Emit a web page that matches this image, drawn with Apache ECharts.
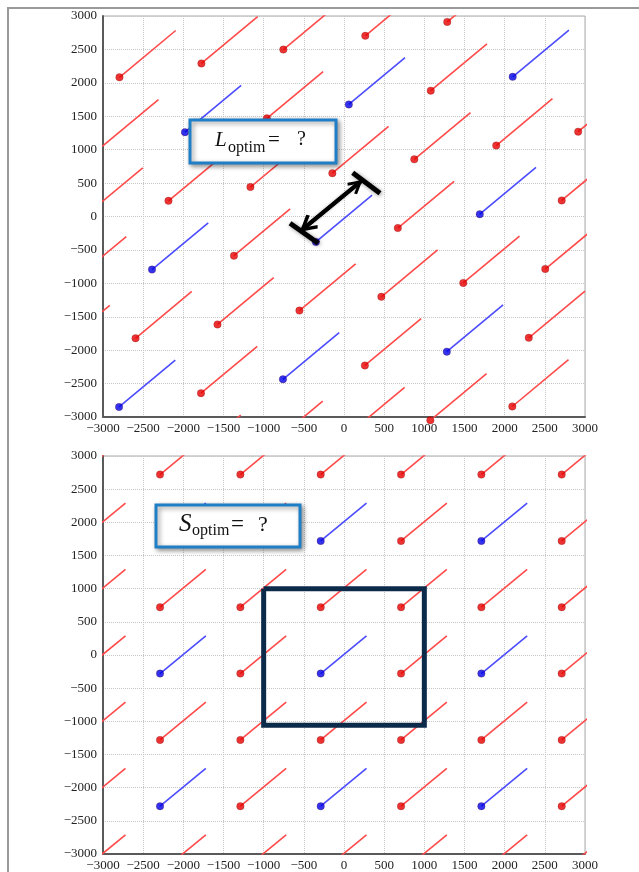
<!DOCTYPE html>
<html>
<head>
<meta charset="utf-8">
<style>
  html, body { margin: 0; padding: 0; background: #fff; }
  #chart { width: 639px; height: 872px; }
</style>
<script src="https://cdn.jsdelivr.net/npm/echarts@6/dist/echarts.min.js"></script>
</head>
<body>
<div id="chart"></div>
<script>
// Axis ticks shared by both panels
const axisTicks = [-3000, -2500, -2000, -1500, -1000, -500, 0, 500, 1000, 1500, 2000, 2500, 3000];

// Upper panel: skewed lattice, lattice points and their direction segments
const topRed = [
  [-1985, -3671], [-965, -3464], [55, -3257], [1075, -3050], [2095, -2843],
  [-1780, -2643], [260, -2229], [2300, -1815],
  [-3615, -2029], [-2595, -1822], [-1575, -1615], [-555, -1408], [465, -1201], [1485, -994], [2505, -787],
  [-3410, -1001], [-1370, -587], [670, -173], [2710, 241],
  [-3205, 27], [-2185, 234], [-1165, 441], [-145, 648], [875, 855], [1895, 1062], [2915, 1269],
  [-3010, 1050], [-960, 1469], [1080, 1883],
  [-2795, 2083], [-1775, 2290], [-755, 2497], [265, 2704], [1285, 2911]
];
const topBlue = [
  [-2800, -2850], [-760, -2436], [1280, -2022],
  [-2390, -794], [-350, -380], [1690, 34],
  [-1980, 1262], [60, 1676], [2100, 2090]
];
const topSegment = [700, 700];

// Double arrow across one blue segment, with its end bars
const arrowTips = [[-526, -202], [220, 536]];
const arrowHeads = [[-464, -141], [158, 474]];
const arrowBars = [
  [[108, 654], [448, 347]],
  [[-672, -102], [-320, -401]]
];

// Lower panel: square lattice
const bottomRed = [
  [-3290, -3280], [-2290, -3280], [-1290, -3280], [-290, -3280], [710, -3280], [1710, -3280], [2710, -3280],
  [-3290, -2280], [-1290, -2280], [710, -2280], [2710, -2280],
  [-3290, -1280], [-2290, -1280], [-1290, -1280], [-290, -1280], [710, -1280], [1710, -1280], [2710, -1280],
  [-3290, -280], [-1290, -280], [710, -280], [2710, -280],
  [-3290, 720], [-2290, 720], [-1290, 720], [-290, 720], [710, 720], [1710, 720], [2710, 720],
  [-3290, 1720], [-1290, 1720], [710, 1720], [2710, 1720],
  [-3290, 2720], [-2290, 2720], [-1290, 2720], [-290, 2720], [710, 2720], [1710, 2720], [2710, 2720]
];
const bottomBlue = [
  [-2290, -2280], [-290, -2280], [1710, -2280],
  [-2290, -280], [-290, -280], [1710, -280],
  [-2290, 1720], [-290, 1720], [1710, 1720]
];
const bottomSegment = [570, 570];

// Unit cell outline in the lower panel
const cellSquare = [[-1000, 1000], [1000, 1000], [1000, -1060], [-1000, -1060], [-1000, 1000]];

const RED_DOT = '#e60000', RED_LINE = '#ff4a4a';
const BLUE_DOT = '#0000e6', BLUE_LINE = '#4c4cff';
const SERIF = '"Liberation Serif", "DejaVu Serif", serif';

function segments(points, vec) {
  return points.map(p => ({ coords: [p, [p[0] + vec[0], p[1] + vec[1]]] }));
}
function visibleDots(points) {
  return points.filter(p => p[0] >= -3000 && p[0] <= 3000 && p[1] >= -3060 && p[1] <= 3000);
}
function axisLabelText(v) {
  return String(v).replace('-', '\u2212');
}

function makeAxis(gridIndex, isX) {
  return {
    type: 'value',
    gridIndex: gridIndex,
    min: axisTicks[0],
    max: axisTicks[axisTicks.length - 1],
    interval: 500,
    axisLine: { show: true, onZero: false, lineStyle: { color: '#5a5a5a', width: 2 } },
    axisTick: { show: false },
    splitLine: { show: true, lineStyle: { type: 'dotted', color: '#c6c6c6', width: 1 } },
    axisLabel: {
      fontFamily: SERIF, fontSize: 13, color: '#222',
      margin: isX ? 5 : 6,
      formatter: axisLabelText
    }
  };
}

function segSeries(name, points, vec, color, idx) {
  return {
    name: name, type: 'lines', coordinateSystem: 'cartesian2d',
    xAxisIndex: idx, yAxisIndex: idx, clip: true, z: 2,
    lineStyle: { color: color, width: 1.6, opacity: 1 },
    symbol: 'none',
    data: segments(points, vec)
  };
}
function dotSeries(name, points, color, idx) {
  return {
    name: name, type: 'scatter', xAxisIndex: idx, yAxisIndex: idx,
    clip: false, z: 3, symbolSize: 7.5,
    itemStyle: { color: color, borderColor: 'rgba(90,0,0,0.45)', borderWidth: 0.6 },
    data: visibleDots(points)
  };
}

// Text label box drawn above the plot
function labelBox(box, parts) {
  const items = [{
    type: 'rect', z: 100, silent: true,
    shape: box,
    style: { fill: '#fff', stroke: '#1e7ec6', lineWidth: 3, shadowBlur: 5, shadowOffsetX: 2, shadowOffsetY: 2, shadowColor: 'rgba(0,0,0,0.4)' }
  }];
  parts.forEach(p => items.push({
    type: 'text', z: 101, silent: true,
    style: { x: p.x, y: p.y, text: p.text, fontFamily: SERIF, fontStyle: p.italic ? 'italic' : 'normal', fontSize: p.size, fill: '#111', verticalAlign: 'middle' }
  }));
  return items;
}

const chart = echarts.init(document.getElementById('chart'), null, { renderer: 'canvas' });

const chevron = 'path://M50,0 L100,72 L84,82 L50,32 L16,82 L0,72 Z';

chart.setOption({
  animation: false,
  backgroundColor: '#fff',
  grid: [
    { left: 103, top: 16, width: 482, height: 401, show: true, borderColor: '#aaa', borderWidth: 1, backgroundColor: '#fff' },
    { left: 103, top: 456, width: 482, height: 403, show: true, borderColor: '#aaa', borderWidth: 1, backgroundColor: '#fff' }
  ],
  xAxis: [makeAxis(0, true), makeAxis(1, true)],
  yAxis: [makeAxis(0, false), makeAxis(1, false)],
  series: [
    segSeries('upper red segments', topRed, topSegment, RED_LINE, 0),
    segSeries('upper blue segments', topBlue, topSegment, BLUE_LINE, 0),
    dotSeries('upper red points', topRed, RED_DOT, 0),
    dotSeries('upper blue points', topBlue, BLUE_DOT, 0),
    {
      name: 'arrow shaft', type: 'lines', coordinateSystem: 'cartesian2d',
      xAxisIndex: 0, yAxisIndex: 0, z: 5, symbol: 'none',
      lineStyle: { color: '#000', width: 4, opacity: 1, shadowBlur: 3, shadowColor: 'rgba(0,0,0,0.35)' },
      data: [{ coords: arrowTips }]
    },
    {
      name: 'arrow heads', type: 'lines', coordinateSystem: 'cartesian2d',
      xAxisIndex: 0, yAxisIndex: 0, z: 6,
      symbol: [chevron, chevron], symbolSize: [18, 15],
      lineStyle: { color: '#000', width: 4, opacity: 1 },
      data: [{ coords: arrowHeads }]
    },
    {
      name: 'arrow bars', type: 'lines', coordinateSystem: 'cartesian2d',
      xAxisIndex: 0, yAxisIndex: 0, z: 6, symbol: 'none',
      lineStyle: { color: '#000', width: 5, opacity: 1, shadowBlur: 4, shadowColor: 'rgba(0,0,0,0.4)', shadowOffsetX: 1, shadowOffsetY: 1 },
      data: arrowBars.map(b => ({ coords: b }))
    },
    segSeries('lower red segments', bottomRed, bottomSegment, RED_LINE, 1),
    segSeries('lower blue segments', bottomBlue, bottomSegment, BLUE_LINE, 1),
    dotSeries('lower red points', bottomRed, RED_DOT, 1),
    dotSeries('lower blue points', bottomBlue, BLUE_DOT, 1),
    {
      name: 'unit cell', type: 'line', xAxisIndex: 1, yAxisIndex: 1, z: 6,
      showSymbol: false, symbol: 'none',
      lineStyle: { color: '#0c2a4a', width: 5, join: 'miter' },
      data: cellSquare
    }
  ],
  graphic: [
    {
      type: 'rect', z: -1, silent: true,
      shape: { x: 8, y: 8, width: 800, height: 1000 },
      style: { fill: 'none', stroke: '#9a9a9a', lineWidth: 2 }
    }
  ].concat(
    labelBox({ x: 190, y: 120, width: 146, height: 43 }, [
      { x: 215, y: 140, text: 'L', size: 21, italic: true },
      { x: 228, y: 148, text: 'optim', size: 16 },
      { x: 268, y: 140, text: '=', size: 21 },
      { x: 297, y: 140, text: '?', size: 20 }
    ]),
    labelBox({ x: 156, y: 505, width: 144, height: 42 }, [
      { x: 179, y: 524, text: 'S', size: 25, italic: true },
      { x: 192, y: 531, text: 'optim', size: 16 },
      { x: 231, y: 525, text: '=', size: 23 },
      { x: 258, y: 525, text: '?', size: 22 }
    ])
  )
});
</script>
</body>
</html>
